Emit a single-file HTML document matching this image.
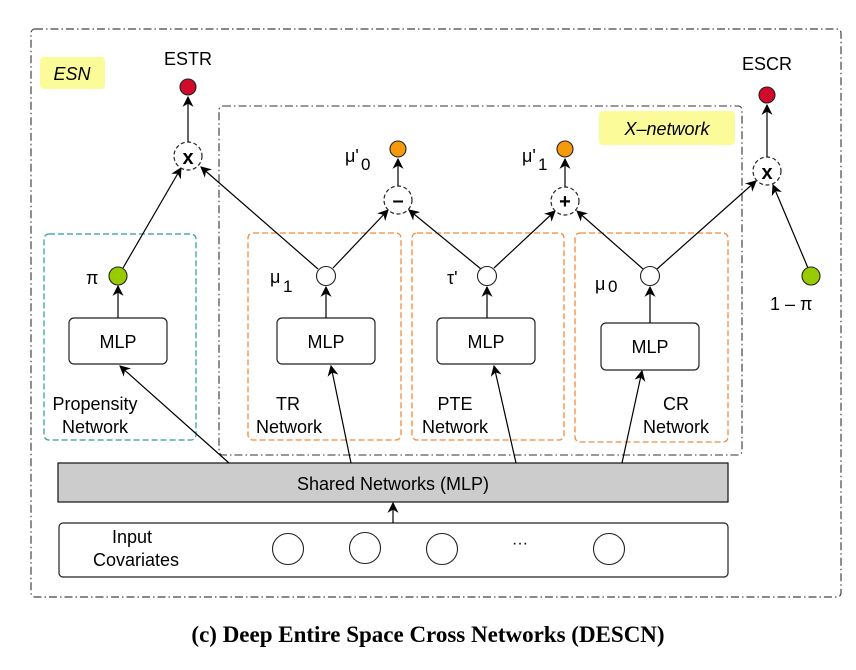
<!DOCTYPE html>
<html><head><meta charset="utf-8"><style>
html,body{margin:0;padding:0;background:#fff}
svg{display:block}
text{font-family:"Liberation Sans","DejaVu Sans",sans-serif;fill:#000}
</style></head><body>
<svg width="856" height="670" viewBox="0 0 856 670" xmlns="http://www.w3.org/2000/svg">
<defs>
<marker id="a" viewBox="0 0 10 10" refX="9" refY="5" markerWidth="11" markerHeight="11" orient="auto-start-reverse" markerUnits="userSpaceOnUse">
<path d="M0,0 L10,5 L0,10 L3,5 z" fill="#000"/></marker>
</defs>
<!-- outer -->
<rect x="31" y="29" width="810" height="568" rx="4" fill="none" stroke="#444" stroke-width="1.2" stroke-dasharray="8,3,1.5,3"/>
<rect x="40" y="57" width="65" height="32" rx="4" fill="#fbfb99"/>
<text x="72" y="80" font-size="18" font-style="italic" text-anchor="middle">ESN</text>
<!-- inner X-network -->
<rect x="219" y="106" width="523" height="349" rx="4" fill="none" stroke="#333" stroke-width="1.1" stroke-dasharray="8,3,1.5,3"/>
<rect x="599" y="111" width="136" height="34" rx="4" fill="#fbfb99"/>
<text x="667" y="135" font-size="18" font-style="italic" text-anchor="middle">X–network</text>
<!-- sub networks -->
<rect x="44" y="234" width="152" height="206" rx="5" fill="none" stroke="#2a9d9d" stroke-width="1.2" stroke-dasharray="6,3"/>
<rect x="248" y="233" width="153" height="207" rx="5" fill="none" stroke="#f58a3c" stroke-width="1.3" stroke-dasharray="6,3"/>
<rect x="412" y="233" width="152" height="207" rx="5" fill="none" stroke="#f58a3c" stroke-width="1.3" stroke-dasharray="6,3"/>
<rect x="575" y="233" width="153" height="209" rx="5" fill="none" stroke="#f58a3c" stroke-width="1.3" stroke-dasharray="6,3"/>
<!-- MLPs -->
<g fill="#fff" stroke="#222" stroke-width="1.2">
<rect x="69" y="318" width="98" height="46" rx="5"/>
<rect x="277" y="318" width="98" height="46" rx="5"/>
<rect x="437" y="318" width="98" height="46" rx="5"/>
<rect x="601" y="323" width="98" height="47" rx="5"/>
</g>
<g font-size="18" text-anchor="middle">
<text x="118" y="348">MLP</text><text x="326" y="348">MLP</text><text x="486" y="348">MLP</text><text x="650" y="353">MLP</text>
<text x="95" y="410">Propensity</text><text x="95" y="433">Network</text>
<text x="288" y="410">TR</text><text x="289" y="433">Network</text>
<text x="455" y="410">PTE</text><text x="455" y="433">Network</text>
<text x="676" y="410">CR</text><text x="676" y="433">Network</text>
</g>
<!-- shared & input -->
<rect x="58" y="463" width="670" height="39" fill="#cccccc" stroke="#111" stroke-width="1.2"/>
<text x="393" y="490" font-size="18" text-anchor="middle">Shared Networks (MLP)</text>
<rect x="59" y="523" width="669" height="54" rx="4" fill="#fff" stroke="#222" stroke-width="1.2"/>
<text x="132" y="543" font-size="18" text-anchor="middle">Input</text>
<text x="136" y="566" font-size="18" text-anchor="middle">Covariates</text>
<g fill="none" stroke="#222" stroke-width="1.1">
<circle cx="288" cy="549" r="15.5"/><circle cx="365" cy="548" r="15.5"/><circle cx="442" cy="549" r="15.5"/><circle cx="609" cy="549" r="15.5"/>
</g>
<text x="520" y="548" font-size="16" text-anchor="middle">···</text>
<!-- arrows -->
<g stroke="#000" stroke-width="1.2" fill="none" marker-end="url(#a)">
<line x1="393" y1="523" x2="393" y2="503"/>
<line x1="229" y1="463" x2="120" y2="366"/>
<line x1="351" y1="463" x2="331" y2="366"/>
<line x1="516" y1="463" x2="494" y2="366"/>
<line x1="622" y1="463" x2="642" y2="371"/>
<line x1="118" y1="318" x2="118" y2="286"/>
<line x1="326" y1="318" x2="326" y2="287"/>
<line x1="487" y1="318" x2="487" y2="287"/>
<line x1="650" y1="323" x2="650" y2="287"/>
<line x1="123" y1="268" x2="181" y2="168"/>
<line x1="318" y1="269" x2="201" y2="167"/>
<line x1="333" y1="268" x2="388" y2="210"/>
<line x1="481" y1="269" x2="409" y2="210"/>
<line x1="494" y1="268" x2="555" y2="211"/>
<line x1="643" y1="269" x2="577" y2="211"/>
<line x1="657" y1="269" x2="756" y2="181"/>
<line x1="808" y1="268" x2="773" y2="185"/>
<line x1="188" y1="142" x2="188" y2="97"/>
<line x1="398" y1="186" x2="398" y2="159"/>
<line x1="565" y1="187" x2="565" y2="159"/>
<line x1="767" y1="157" x2="767" y2="105"/>
</g>
<!-- nodes -->
<g stroke="#222" stroke-width="1.1">
<circle cx="188" cy="87" r="8" fill="#d10a2c"/>
<circle cx="767" cy="95" r="8" fill="#d10a2c"/>
<circle cx="398" cy="149" r="8" fill="#f59a0a"/>
<circle cx="565" cy="149" r="8" fill="#f59a0a"/>
<circle cx="118" cy="276" r="9" fill="#99cc00"/>
<circle cx="811" cy="276" r="9" fill="#99cc00"/>
<circle cx="326" cy="276" r="9.5" fill="#fff"/>
<circle cx="487" cy="276" r="9.5" fill="#fff"/>
<circle cx="650" cy="276" r="9.5" fill="#fff"/>
</g>
<g fill="#fff" stroke="#222" stroke-width="1.2" stroke-dasharray="4,2.5">
<circle cx="188" cy="156" r="14"/><circle cx="398" cy="200" r="14"/><circle cx="565" cy="201" r="14"/><circle cx="767" cy="171" r="14"/>
</g>
<g font-size="20" font-weight="bold" text-anchor="middle">
<text x="188" y="164">x</text><text x="767" y="179">x</text>
<text x="398" y="207">–</text><text x="565" y="208">+</text>
</g>
<g font-size="18">
<text x="188" y="65" text-anchor="middle">ESTR</text>
<text x="767" y="70" text-anchor="middle">ESCR</text>
<text x="345" y="162">μ'</text><text x="361" y="170" font-size="17">0</text>
<text x="522" y="162">μ'</text><text x="538" y="170" font-size="17">1</text>
<text x="86" y="284">π</text>
<text x="270" y="283">μ</text><text x="283" y="292" font-size="17">1</text>
<text x="447" y="284">τ'</text>
<text x="595" y="290">μ</text><text x="608" y="292" font-size="17">0</text>
<text x="770" y="310">1 – π</text>
</g>
<text x="428" y="642" style="font-family:'Liberation Serif','DejaVu Serif',serif;font-weight:bold;font-size:23px" text-anchor="middle">(c) Deep Entire Space Cross Networks (DESCN)</text>
</svg>
</body></html>
